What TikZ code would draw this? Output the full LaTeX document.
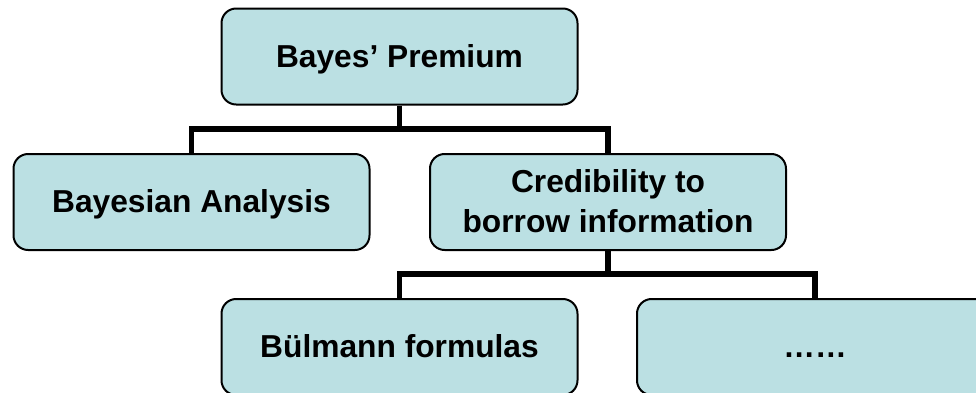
\documentclass[tikz,border=0pt]{standalone}
\usepackage{fontspec}
\setmainfont{Liberation Sans}
\definecolor{boxfill}{RGB}{187,224,227}
% strut with the font's full ascender and descender
\newcommand{\lstrut}{\rule[-0.212em]{0pt}{1.117em}}
\begin{document}
\begin{tikzpicture}[x=0.75pt,y=-0.75pt,
  item/.style={draw=black, line width=1.5pt, fill=boxfill, rounded corners=11pt,
    minimum width=267pt, minimum height=72pt, inner sep=0pt,
    align=center, font=\fontsize{23.8}{30}\selectfont\bfseries},
  conn/.style={draw=black, line width=4.2pt, line join=miter}]
\useasboundingbox (0,0) rectangle (976,393);
\clip (0,0) rectangle (976,393);

% tree links
\coordinate (j1) at (399.5,129);
\coordinate (j2) at (608,274);

% boxes
\node[item] (top)  at (399.5,56.5) {\lstrut Bayes’ Premium};
\node[item] (bay)  at (191.5,202)  {\lstrut Bayesian Analysis};
\node[item] (cred) at (608,202)    {\lstrut Credibility to\\\lstrut borrow information};
\node[item] (bul)  at (399.5,347)  {\lstrut Bülmann formulas};
\node[item] (more) at (815,347)    {\lstrut ……};

\draw[conn] (top.south) -- (j1);
\draw[conn] (bay.north) |- (j1) -| (cred.north);
\draw[conn] (cred.south) -- (j2);
\draw[conn] (bul.north) |- (j2) -| (more.north);
\end{tikzpicture}
\end{document}
